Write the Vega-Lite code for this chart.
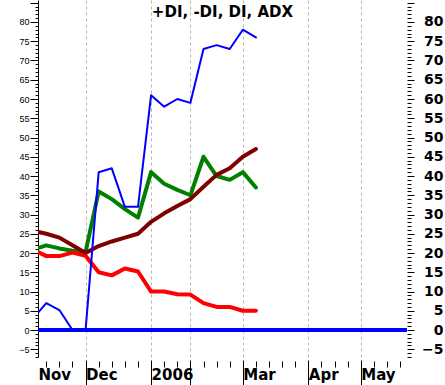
{
  "$schema": "https://vega.github.io/schema/vega-lite/v6.json",
  "width": 369,
  "height": 357,
  "autosize": "none",
  "padding": {"left": 38, "top": 0, "right": 38, "bottom": 28},
  "background": "white",
  "config": {"view": {"stroke": null}},
  "title": {"text": "+DI, -DI, DI, ADX", "font": "DejaVu Sans", "fontSize": 15, "fontWeight": "bold", "color": "black", "anchor": "middle", "frame": "group", "offset": -36, "baseline": "alphabetic"},
  "data": {"values": [
    {"date": "2005-11-25", "plusDI": 3, "minusDI": 20.9, "DI": 20.9, "ADX": 25.8},
    {"date": "2005-12-02", "plusDI": 7, "minusDI": 19.2, "DI": 22, "ADX": 25},
    {"date": "2005-12-09", "plusDI": 5.2, "minusDI": 19.2, "DI": 21.2, "ADX": 24},
    {"date": "2005-12-16", "plusDI": 0, "minusDI": 20.1, "DI": 20.6, "ADX": 22},
    {"date": "2005-12-23", "plusDI": 0, "minusDI": 19.3, "DI": 20.3, "ADX": 20},
    {"date": "2005-12-30", "plusDI": 41, "minusDI": 15, "DI": 36, "ADX": 21.8},
    {"date": "2006-01-06", "plusDI": 42, "minusDI": 14.2, "DI": 34, "ADX": 23},
    {"date": "2006-01-13", "plusDI": 32, "minusDI": 16, "DI": 31.4, "ADX": 24},
    {"date": "2006-01-20", "plusDI": 32, "minusDI": 15.2, "DI": 29.2, "ADX": 25},
    {"date": "2006-01-27", "plusDI": 61, "minusDI": 10, "DI": 41, "ADX": 28.1},
    {"date": "2006-02-03", "plusDI": 58, "minusDI": 10, "DI": 38, "ADX": 30.3},
    {"date": "2006-02-10", "plusDI": 60, "minusDI": 9.3, "DI": 36.4, "ADX": 32.2},
    {"date": "2006-02-17", "plusDI": 59, "minusDI": 9.2, "DI": 35, "ADX": 34},
    {"date": "2006-02-24", "plusDI": 73, "minusDI": 7, "DI": 45, "ADX": 37.2},
    {"date": "2006-03-03", "plusDI": 74, "minusDI": 6, "DI": 40, "ADX": 40.3},
    {"date": "2006-03-10", "plusDI": 73, "minusDI": 6, "DI": 39, "ADX": 42},
    {"date": "2006-03-17", "plusDI": 78, "minusDI": 5, "DI": 41, "ADX": 45},
    {"date": "2006-03-24", "plusDI": 76, "minusDI": 5, "DI": 37, "ADX": 47}
  ]},
  "resolve": {"scale": {"x": "shared", "y": "shared"}, "axis": {"x": "independent", "y": "independent"}},
  "layer": [
    {
      "data": {"values": [{}]},
      "mark": {"type": "rule", "color": "#0000ff", "strokeWidth": 4},
      "encoding": {
        "y": {"datum": 0, "type": "quantitative", "scale": {"domain": [-7, 85.71], "nice": false, "zero": false}, "axis": null}
      }
    },
    {
      "mark": {"type": "line", "color": "#008000", "strokeWidth": 4, "clip": true, "strokeJoin": "round", "strokeCap": "round"},
      "encoding": {
        "x": {"field": "date", "type": "temporal",
          "scale": {"type": "utc", "domain": [{"year": 2005, "month": 11, "date": 27, "hours": 14, "utc": true}, {"year": 2006, "month": 6, "date": 12, "hours": 17, "utc": true}]},
          "axis": {"orient": "bottom", "title": null, "domain": false, "offset": 3, "tickSize": 25, "tickColor": "black",
            "tickOpacity": {"condition": {"test": "utcmonth(datum.value) === 10", "value": 0}, "value": 1},
            "grid": true, "gridDash": [3, 3], "gridColor": "#b4b4b4",
            "gridOpacity": {"condition": {"test": "utcmonth(datum.value) === 10", "value": 0}, "value": 1},
            "values": [
              {"year": 2005, "month": 11, "date": 27, "hours": 14, "utc": true},
              {"year": 2005, "month": 12, "date": 23, "utc": true},
              {"year": 2006, "month": 1, "date": 27, "utc": true},
              {"year": 2006, "month": 2, "date": 17, "utc": true},
              {"year": 2006, "month": 3, "date": 17, "utc": true},
              {"year": 2006, "month": 4, "date": 21, "utc": true},
              {"year": 2006, "month": 5, "date": 19, "utc": true}
            ],
            "labelExpr": "utcmonth(datum.value) === 0 ? '2006' : (utcmonth(datum.value) === 1 ? '' : utcFormat(datum.value, '%b'))",
            "labelAlign": "left", "labelBaseline": "alphabetic", "labelPadding": -6, "labelDx": 1,
            "labelFont": "DejaVu Sans", "labelFontWeight": "bold", "labelFontSize": 15, "labelColor": "black",
            "labelFlush": false, "labelOverlap": false, "labelBound": false}
        },
        "y": {"field": "DI", "type": "quantitative", "scale": {"domain": [-7, 85.71], "nice": false, "zero": false},
          "axis": {"orient": "left", "title": null, "grid": false, "domainColor": "black", "tickColor": "black",
            "values": [-7,-6,-5,-4,-3,-2,-1,0,1,2,3,4,5,6,7,8,9,10,11,12,13,14,15,16,17,18,19,20,21,22,23,24,25,26,27,28,29,30,31,32,33,34,35,36,37,38,39,40,41,42,43,44,45,46,47,48,49,50,51,52,53,54,55,56,57,58,59,60,61,62,63,64,65,66,67,68,69,70,71,72,73,74,75,76,77,78,79,80,81,82,83,84,85],
            "tickSize": {"condition": {"test": "datum.value % 5 === 0", "value": 8}, "value": 3},
            "labelExpr": "(datum.value % 5 === 0 && datum.value < 85) ? datum.label : ''",
            "labelFont": "Liberation Sans", "labelFontSize": 9, "labelColor": "black", "labelPadding": 1,
            "labelFlush": false, "labelOverlap": false, "labelBound": false}
        }
      }
    },
    {
      "mark": {"type": "line", "color": "#ff0000", "strokeWidth": 4, "clip": true, "strokeJoin": "round", "strokeCap": "round"},
      "encoding": {
        "x": {"field": "date", "type": "temporal",
          "scale": {"type": "utc", "domain": [{"year": 2005, "month": 11, "date": 27, "hours": 14, "utc": true}, {"year": 2006, "month": 6, "date": 12, "hours": 17, "utc": true}]},
          "axis": {"orient": "bottom", "title": null, "domain": false, "offset": 4, "tickSize": 6, "tickColor": "black", "labels": false, "grid": false,
            "values": [
              {"year": 2005, "month": 12, "date": 2, "utc": true},
              {"year": 2005, "month": 12, "date": 9, "utc": true},
              {"year": 2005, "month": 12, "date": 16, "utc": true},
              {"year": 2005, "month": 12, "date": 23, "utc": true},
              {"year": 2005, "month": 12, "date": 30, "utc": true},
              {"year": 2006, "month": 1, "date": 6, "utc": true},
              {"year": 2006, "month": 1, "date": 13, "utc": true},
              {"year": 2006, "month": 1, "date": 20, "utc": true},
              {"year": 2006, "month": 1, "date": 27, "utc": true},
              {"year": 2006, "month": 2, "date": 3, "utc": true},
              {"year": 2006, "month": 2, "date": 10, "utc": true},
              {"year": 2006, "month": 2, "date": 17, "utc": true},
              {"year": 2006, "month": 2, "date": 24, "utc": true},
              {"year": 2006, "month": 3, "date": 3, "utc": true},
              {"year": 2006, "month": 3, "date": 10, "utc": true},
              {"year": 2006, "month": 3, "date": 17, "utc": true},
              {"year": 2006, "month": 3, "date": 24, "utc": true},
              {"year": 2006, "month": 3, "date": 31, "utc": true},
              {"year": 2006, "month": 4, "date": 7, "utc": true},
              {"year": 2006, "month": 4, "date": 14, "utc": true},
              {"year": 2006, "month": 4, "date": 21, "utc": true},
              {"year": 2006, "month": 4, "date": 28, "utc": true},
              {"year": 2006, "month": 5, "date": 5, "utc": true},
              {"year": 2006, "month": 5, "date": 12, "utc": true},
              {"year": 2006, "month": 5, "date": 19, "utc": true},
              {"year": 2006, "month": 5, "date": 26, "utc": true},
              {"year": 2006, "month": 6, "date": 2, "utc": true},
              {"year": 2006, "month": 6, "date": 9, "utc": true}
            ]}
        },
        "y": {"field": "minusDI", "type": "quantitative", "scale": {"domain": [-7, 85.71], "nice": false, "zero": false},
          "axis": {"orient": "right", "title": null, "grid": false, "domain": false, "tickColor": "black",
            "values": [-7,-6,-5,-4,-3,-2,-1,0,1,2,3,4,5,6,7,8,9,10,11,12,13,14,15,16,17,18,19,20,21,22,23,24,25,26,27,28,29,30,31,32,33,34,35,36,37,38,39,40,41,42,43,44,45,46,47,48,49,50,51,52,53,54,55,56,57,58,59,60,61,62,63,64,65,66,67,68,69,70,71,72,73,74,75,76,77,78,79,80,81,82,83,84,85],
            "tickSize": {"condition": {"test": "datum.value % 5 === 0", "value": 7}, "value": 4},
            "labelExpr": "(datum.value % 5 === 0 && datum.value < 85) ? datum.label : ''",
            "labelAlign": "right", "labelPadding": 29,
            "labelFont": "DejaVu Sans", "labelFontWeight": "bold", "labelFontSize": 14, "labelColor": "black",
            "labelFlush": false, "labelOverlap": false, "labelBound": false}
        }
      }
    },
    {
      "mark": {"type": "line", "color": "#800000", "strokeWidth": 4, "clip": true, "strokeJoin": "round", "strokeCap": "round"},
      "encoding": {
        "x": {"field": "date", "type": "temporal", "scale": {"type": "utc", "domain": [{"year": 2005, "month": 11, "date": 27, "hours": 14, "utc": true}, {"year": 2006, "month": 6, "date": 12, "hours": 17, "utc": true}]}, "axis": null},
        "y": {"field": "ADX", "type": "quantitative", "scale": {"domain": [-7, 85.71], "nice": false, "zero": false}, "axis": null}
      }
    },
    {
      "mark": {"type": "line", "color": "#0000ff", "strokeWidth": 2, "clip": true, "strokeJoin": "round", "strokeCap": "round"},
      "encoding": {
        "x": {"field": "date", "type": "temporal", "scale": {"type": "utc", "domain": [{"year": 2005, "month": 11, "date": 27, "hours": 14, "utc": true}, {"year": 2006, "month": 6, "date": 12, "hours": 17, "utc": true}]}, "axis": null},
        "y": {"field": "plusDI", "type": "quantitative", "scale": {"domain": [-7, 85.71], "nice": false, "zero": false}, "axis": null}
      }
    }
  ]
}
